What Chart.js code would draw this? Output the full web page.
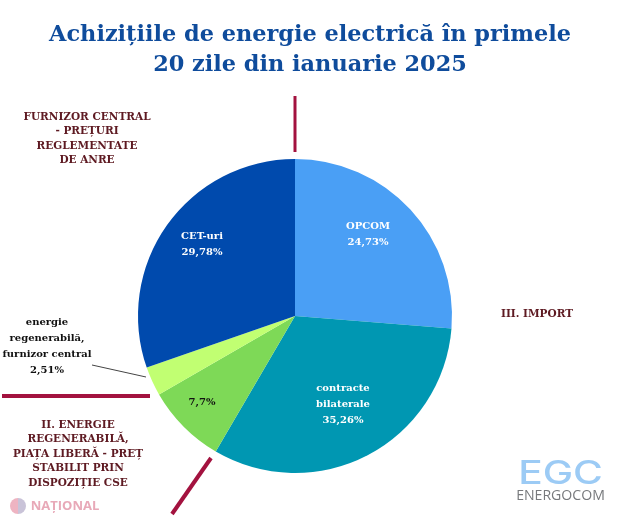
<!DOCTYPE html>
<html>
<head>
<meta charset="utf-8">
<style>
body { margin: 0; background: #fff; }
</style>
<script src="https://cdn.jsdelivr.net/npm/chart.js@4"></script>
</head>
<body>
<canvas id="myChart" width="620" height="520" style="width:620px;height:520px"></canvas>
<script>
var categories = ["OPCOM", "contracte bilaterale", "energie regenerabilă, piața liberă", "energie regenerabilă, furnizor central", "CET-uri"];
// printed on the slices
var shares = ["24,73%", "35,26%", "7,7%", "2,51%", "29,78%"];
// slice sizes as they are drawn in the picture, they don't follow the printed shares exactly
var drawnShares = [26.28, 32.14, 8.25, 3.0, 30.33];
var sliceColors = ["#4a9ff5", "#0097b2", "#7ed957", "#c1ff72", "#004aad"];

var titleLines = ["Achizițiile de energie electrică în primele", "20 zile din ianuarie 2025"];
var serif = '"DejaVu Serif"';
var darkRed = "#5e1a22";
var lineRed = "#a3123f";

// text on the slices: lines, x, y, colour
var sliceLabels = [
    [["OPCOM", shares[0]], 368, 234, "#fff"],
    [["contracte", "bilaterale", shares[1]], 343, 404, "#fff"],
    [[shares[2]], 202, 402, "#111"],
    [["energie", "regenerabilă,", "furnizor central", shares[3]], 47, 346, "#111"],
    [["CET-uri", shares[4]], 202, 244, "#fff"]
];

var groupLabels = [
    [["FURNIZOR CENTRAL", "- PREȚURI", "REGLEMENTATE", "DE ANRE"], 87, 139],
    [["II. ENERGIE", "REGENERABILĂ,", "PIAȚA LIBERĂ - PREȚ", "STABILIT PRIN", "DISPOZIȚIE CSE"], 78, 454],
    [["III. IMPORT"], 537, 314]
];

function drawLines(ctx, lines, x, y, lh) {
    var top = y - (lines.length - 1) * lh / 2;
    lines.forEach(function (t, i) {
        ctx.fillText(t, x, top + i * lh);
    });
}

function stroke(ctx, x1, y1, x2, y2, w, color) {
    ctx.beginPath();
    ctx.moveTo(x1, y1);
    ctx.lineTo(x2, y2);
    ctx.lineWidth = w;
    ctx.strokeStyle = color;
    ctx.stroke();
}

function stretched(ctx, text, x, y, sx) {
    ctx.save();
    ctx.translate(x, y);
    ctx.scale(sx, 1);
    ctx.fillText(text, 0, 0);
    ctx.restore();
}

var annotations = {
    id: "annotations",
    afterDraw: function (chart) {
        var ctx = chart.ctx;
        ctx.save();
        ctx.textAlign = "center";
        ctx.textBaseline = "middle";

        ctx.fillStyle = "#0f4c9c";
        ctx.font = "bold 22.4px " + serif;
        drawLines(ctx, titleLines, 310, 50, 30);

        ctx.font = "bold 10px " + serif;
        sliceLabels.forEach(function (l) {
            ctx.fillStyle = l[3];
            drawLines(ctx, l[0], l[1], l[2], 16);
        });

        ctx.font = "bold 10.5px " + serif;
        ctx.fillStyle = darkRed;
        groupLabels.forEach(function (l) {
            drawLines(ctx, l[0], l[1], l[2], 14.5);
        });

        // separators between the groups
        stroke(ctx, 295, 96, 295, 152, 3, lineRed);
        stroke(ctx, 2, 396, 150, 396, 4, lineRed);
        stroke(ctx, 211, 458, 172, 514, 4, lineRed);
        stroke(ctx, 92, 365, 146, 377, 1, "#444");

        // logos
        ctx.fillStyle = "#9ccbf5";
        ctx.font = "500 32px Inter";
        stretched(ctx, "EGC", 560.5, 474, 1.27);
        ctx.fillStyle = "#77797c";
        ctx.font = "15px 'Open Sans'";
        stretched(ctx, "ENERGOCOM", 560.5, 496, 0.94);

        ctx.fillStyle = "#eeb4c2";
        ctx.beginPath();
        ctx.arc(18, 506, 8, Math.PI * 0.5, Math.PI * 1.5);
        ctx.fill();
        ctx.fillStyle = "#c9c3d8";
        ctx.beginPath();
        ctx.arc(18, 506, 8, Math.PI * 1.5, Math.PI * 0.5);
        ctx.fill();
        ctx.fillStyle = "#e8a9b8";
        ctx.font = "bold 13px 'Open Sans'";
        ctx.fillText("NAȚIONAL", 65, 506);
        ctx.restore();
    }
};

new Chart("myChart", {
    type: "pie",
    data: {
        labels: categories,
        datasets: [{
            data: drawnShares,
            backgroundColor: sliceColors,
            borderWidth: 0
        }]
    },
    options: {
        responsive: false,
        animation: false,
        devicePixelRatio: 1,
        layout: {padding: {left: 138, right: 168, top: 159, bottom: 47}},
        plugins: {
            legend: {display: false},
            tooltip: {enabled: false}
        }
    },
    plugins: [annotations]
});
</script>
</body>
</html>
